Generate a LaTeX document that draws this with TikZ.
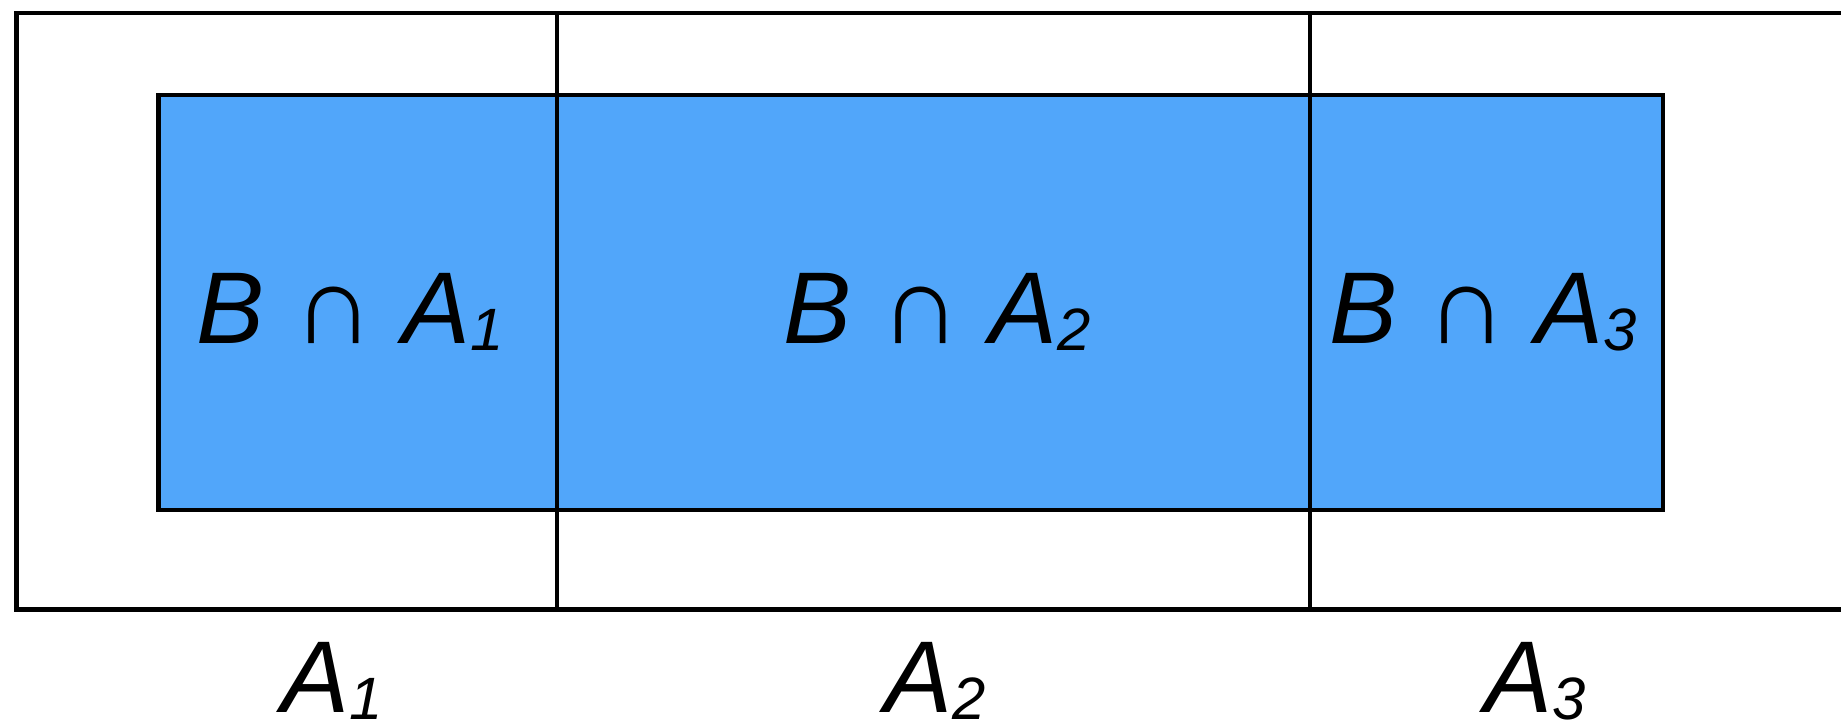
\documentclass[tikz,border=0pt]{standalone}
\usepackage{fontspec}
\setmainfont{Liberation Sans}
\usepackage{xcolor}
\usetikzlibrary{positioning}

\definecolor{partblue}{HTML}{51A6FA}
\newcommand{\ix}[1]{\raisebox{-2pt}{\fontsize{17}{20}\selectfont\textit{#1}}}
\newcommand{\cut}[1]{\textit{B} \scalebox{1.1}{∩} \textit{A}\ix{#1}}

\begin{document}
\begin{tikzpicture}[
  x=0.01cm,y=-0.01cm,
  font=\fontsize{29}{34}\selectfont,
  edge/.style={draw,line width=1.4pt},
  lbl/.style={inner sep=0pt,anchor=base}
]
\useasboundingbox (0,0) rectangle (1841,724);
% outer partition (runs off the right side)
\draw[edge] (1841,13) -- (16.5,13) -- (16.5,609.5) -- (1841,609.5);
% the set B
\draw[edge,fill=partblue] (158.5,95) rectangle (1663,510);
% dividers between the parts
\draw[edge] (557,13) -- (557,609.5);
\draw[edge] (1310,13) -- (1310,609.5);
% intersections
\node[lbl] (c1) at (350,343) {\cut{1}};
\node[lbl] (c2) at (937,343) {\cut{2}};
\node[lbl] (c3) at (1483,343) {\cut{3}};
% part names
\node[lbl] (a1) at (332,712) {\textit{A}\ix{1}};
\node[lbl] (a2) at (935,712) {\textit{A}\ix{2}};
\node[lbl] (a3) at (1535,712) {\textit{A}\ix{3}};
\end{tikzpicture}
\end{document}
